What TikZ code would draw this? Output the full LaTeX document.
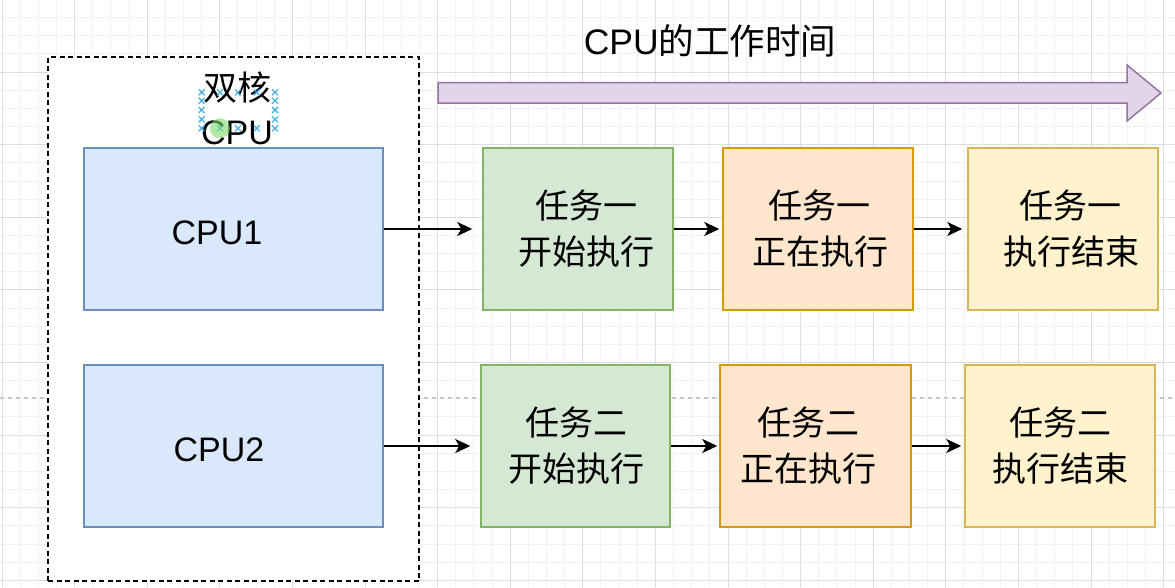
\documentclass[tikz,border=0pt]{standalone}
\usepackage{fontspec}
\setmainfont{Liberation Sans}
\newfontfamily\cjk{Noto Sans CJK SC}
\usetikzlibrary{arrows.meta}
\definecolor{blueF}{HTML}{DAE8FC}\definecolor{blueS}{HTML}{6C8EBF}
\definecolor{greenF}{HTML}{D5E8D4}\definecolor{greenS}{HTML}{82B366}
\definecolor{orangeF}{HTML}{FFE6CC}\definecolor{orangeS}{HTML}{D79B00}
\definecolor{yellowF}{HTML}{FFF2CC}\definecolor{yellowS}{HTML}{D6B656}
\definecolor{purpleF}{HTML}{E1D5E7}\definecolor{purpleS}{HTML}{9673A6}
\definecolor{gridMinor}{HTML}{F1F1F1}\definecolor{gridMajor}{HTML}{DDDDDD}
\definecolor{pageBreak}{HTML}{C8C8C8}
\definecolor{selBlue}{HTML}{3AAAE6}\definecolor{selGreen}{HTML}{7ADB6A}
\begin{document}
\begin{tikzpicture}[x=1pt,y=-1pt,
  box/.style={draw, line width=1.5pt, inner sep=0pt, minimum width=190pt, minimum height=162pt},
  cpubox/.style={box, fill=blueF, draw=blueS, minimum width=299pt},
  gbox/.style={box, fill=greenF, draw=greenS},
  obox/.style={box, fill=orangeF, draw=orangeS},
  ybox/.style={box, fill=yellowF, draw=yellowS},
  txt/.style={inner sep=0pt, anchor=base, font=\fontsize{34}{40}\selectfont},
  conn/.style={line width=1.5pt, -{Stealth[length=15pt, width=14pt, inset=4pt]}},
  selx/.style={draw=selBlue, line width=1.1pt}
]
\useasboundingbox (0,0) rectangle (1175,587);
\fill[white] (0,0) rectangle (1175,587);
% grid
\foreach \i in {0,...,65} {
  \draw[gridMinor, line width=1pt] ({2+\i*18.15},0) -- ({2+\i*18.15},587);
}
\foreach \i in {0,...,33} {
  \draw[gridMinor, line width=1pt] (0,{-0.5+\i*18.15}) -- (1175,{-0.5+\i*18.15});
}
\foreach \i in {0,...,16} {
  \draw[gridMajor, line width=1pt] ({2+\i*72.6},0) -- ({2+\i*72.6},587);
}
\foreach \i in {0,...,8} {
  \draw[gridMajor, line width=1pt] (0,{-0.5+\i*72.6}) -- (1175,{-0.5+\i*72.6});
}
\draw[pageBreak, line width=1.2pt, dash pattern=on 4pt off 4pt] (0,398) -- (1175,398);

% container
\node[draw=black, fill=white, line width=1.5pt, dash pattern=on 5pt off 3.5pt,
      minimum width=371pt, minimum height=524pt, inner sep=0pt] (dual) at (233.5,319) {};
\node[txt] (dualA) at (237,100) {\cjk 双核};
\node[txt] (dualB) at (237,144.5) {CPU};

% title and time arrow
\node[txt, font=\fontsize{35.5}{40}\selectfont] (title) at (710,54) {CPU{\cjk 的工作时间}};
\draw[fill=purpleF, draw=purpleS, line width=1.5pt, line join=miter]
  (438,82.5) -- (1127,82.5) -- (1127,65) -- (1161,93) -- (1127,121) -- (1127,103) -- (438,103) -- cycle;

% CPU boxes
\node[cpubox] (cpu1) at (233.5,229) {};
\node[txt] (cpu1t) at (217,244) {CPU1};
\node[cpubox] (cpu2) at (233.5,446) {};
\node[txt] (cpu2t) at (219,461) {CPU2};

% row 1
\node[gbox] (g1) at (578,229) {};
\node[obox] (o1) at (818,229) {};
\node[ybox] (y1) at (1063,229) {};
\node[txt] (g1a) at (586.5,218) {\cjk 任务一};
\node[txt] (g1b) at (586,264) {\cjk 开始执行};
\node[txt] (o1a) at (819,218) {\cjk 任务一};
\node[txt] (o1b) at (820,264) {\cjk 正在执行};
\node[txt] (y1a) at (1070,218) {\cjk 任务一};
\node[txt] (y1b) at (1071,264) {\cjk 执行结束};

% row 2
\node[gbox, minimum width=189pt] (g2) at (575.5,446) {};
\node[obox, minimum width=191pt] (o2) at (815.5,446) {};
\node[ybox] (y2) at (1060,446) {};
\node[txt] (g2a) at (576,435) {\cjk 任务二};
\node[txt] (g2b) at (576,481) {\cjk 开始执行};
\node[txt] (o2a) at (808,435) {\cjk 任务二};
\node[txt] (o2b) at (808,481) {\cjk 正在执行};
\node[txt] (y2a) at (1060,435) {\cjk 任务二};
\node[txt] (y2b) at (1060,481) {\cjk 执行结束};

% connectors
\draw[conn, shorten >=10pt] (cpu1.east) -- (g1.west);
\draw[conn, shorten >=3pt] (g1.east) -- (o1.west);
\draw[conn, shorten >=5pt] (o1.east) -- (y1.west);
\draw[conn, shorten >=10pt] (cpu2.east) -- (g2.west);
\draw[conn, shorten >=2pt] (g2.east) -- (o2.west);
\draw[conn, shorten >=3pt] (o2.east) -- (y2.west);

% selection markers (as shown in the screenshot)
\foreach \px/\py in {201.7/92.3, 220/92.3, 238/92.3, 256.7/92.3, 275/92.3,
                     201.7/100.7, 275/100.7, 201.7/110, 275/110, 201.7/119.3, 275/119.3,
                     201.7/128.3, 220/128.3, 238/128.3, 256.7/128.3, 275/128.3} {
  \draw[selx] (\px-3,\py-3) -- (\px+3,\py+3) (\px-3,\py+3) -- (\px+3,\py-3);
}
\fill[selGreen, opacity=0.6] (220,128.3) circle (10);
\end{tikzpicture}
\end{document}
